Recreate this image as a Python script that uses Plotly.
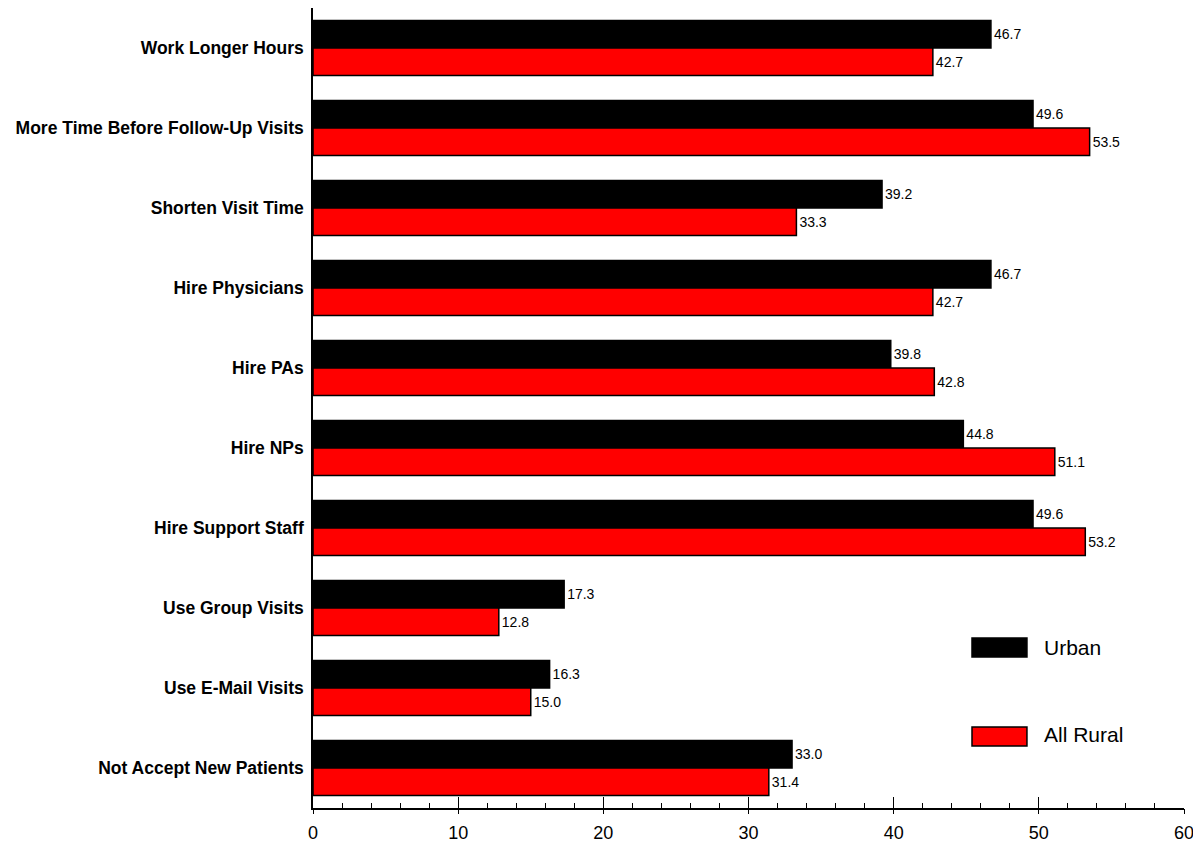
import plotly.graph_objects as go

categories = ["Work Longer Hours", "More Time Before Follow-Up Visits", "Shorten Visit Time",
              "Hire Physicians", "Hire PAs", "Hire NPs", "Hire Support Staff",
              "Use Group Visits", "Use E-Mail Visits", "Not Accept New Patients"]
urban = [46.7, 49.6, 39.2, 46.7, 39.8, 44.8, 49.6, 17.3, 16.3, 33.0]
rural = [42.7, 53.5, 33.3, 42.7, 42.8, 51.1, 53.2, 12.8, 15.0, 31.4]
series = [("Urban", urban, "#000000"), ("All Rural", rural, "#ff0000")]

fig = go.Figure()
for name, vals, col in series:
    fig.add_trace(go.Bar(
        x=vals, y=categories, orientation="h", name=name,
        marker=dict(color=col, line=dict(color="black", width=1.5)),
        texttemplate="%{x:.1f}", textposition="outside",
        textfont=dict(size=14, color="black", family="Liberation Sans"),
        cliponaxis=False, showlegend=False,
    ))

# second x axis just to draw the outside half of the major ticks
fig.add_trace(go.Scatter(x=[0, 60], y=[None, None], xaxis="x2", yaxis="y", showlegend=False, hoverinfo="skip"))

# page body has an 8px margin, so the figure is sized/offset to land in the window
fig.update_layout(
    width=1193, height=834,
    margin=dict(l=305, r=17, t=0, b=34),
    paper_bgcolor="white", plot_bgcolor="white",
    barmode="group", bargap=0.3125, bargroupgap=0,
    font=dict(family="Liberation Sans", color="black"),
    xaxis=dict(range=[0, 60], dtick=10, showgrid=False, zeroline=False,
               showline=True, linecolor="black", linewidth=1.5,
               ticks="inside", ticklen=11, tickwidth=1.2, tickcolor="black",
               minor=dict(dtick=2, ticks="inside", ticklen=5, tickwidth=1, tickcolor="black"),
               tickfont=dict(size=18, family="Liberation Sans"), ticklabelstandoff=8),
    xaxis2=dict(range=[0, 60], dtick=10, overlaying="x", side="bottom", showgrid=False,
                zeroline=False, showticklabels=False, ticks="outside", ticklen=5,
                tickwidth=1.2, tickcolor="black", anchor="y"),
    yaxis=dict(autorange="reversed", showgrid=False, zeroline=False, showline=True,
               linecolor="black", linewidth=1.5, ticks="", ticklen=0,
               tickfont=dict(size=17.5, family="Liberation Sans"), ticklabelstandoff=4),
)

# legend drawn as boxes + labels
legend_items = [("Urban", "#000000", 0.18875, 0.2125, 0.20125),
                ("All Rural", "#ff0000", 0.0775, 0.10125, 0.0925)]
for label, col, y0, y1, yt in legend_items:
    fig.add_shape(type="rect", xref="paper", yref="paper", x0=0.7566, x1=0.8197, y0=y0, y1=y1,
                  fillcolor=col, line=dict(color="black", width=1.5))
    fig.add_annotation(xref="paper", yref="paper", x=0.837, y=yt, text=label, showarrow=False,
                       xanchor="left", yanchor="middle", font=dict(size=21, color="black"))

# bold category labels
fig.update_yaxes(tickvals=categories, ticktext=["<b>%s</b>" % c for c in categories])

fig.write_html("out.html")
